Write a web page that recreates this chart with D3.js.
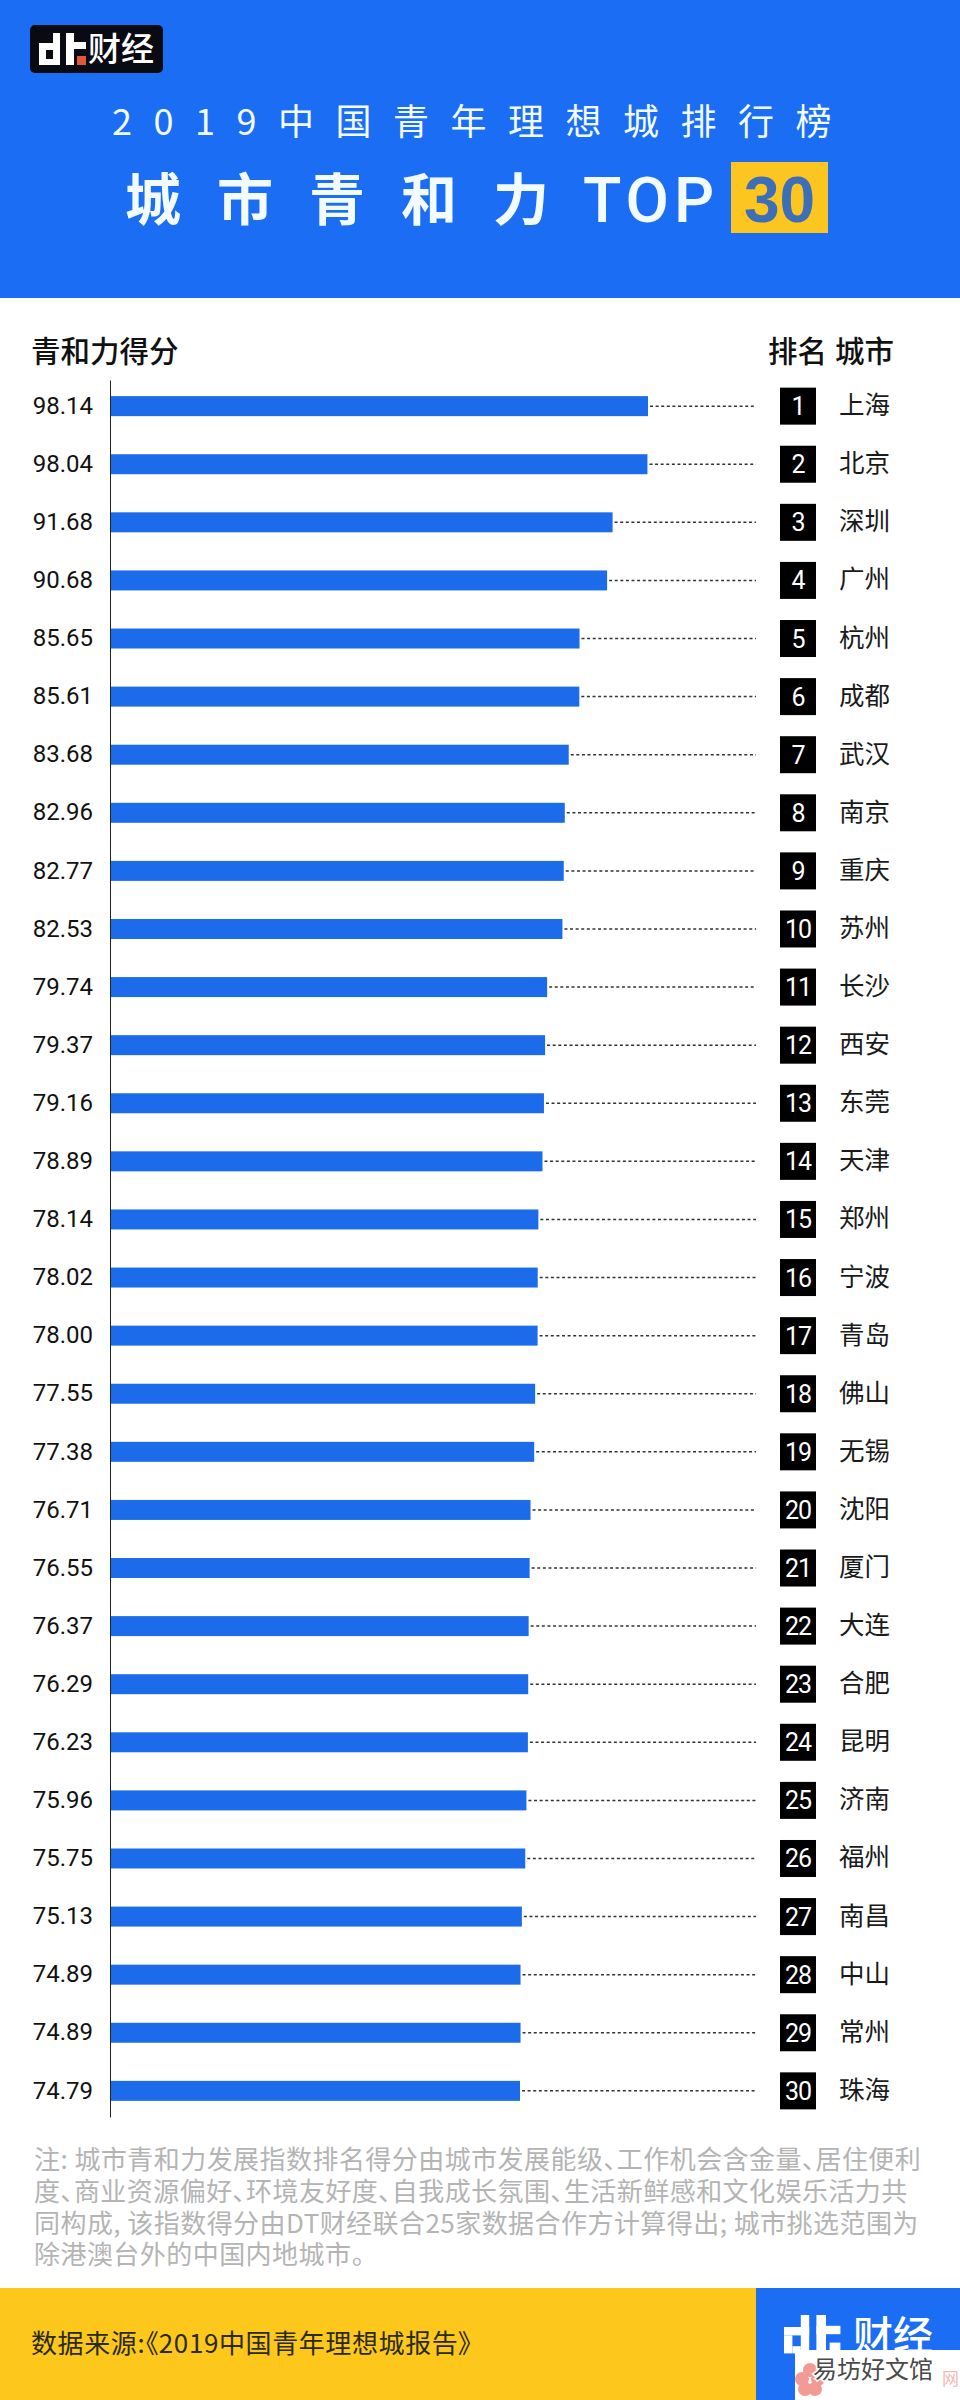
<!DOCTYPE html>
<html>
<head>
<meta charset="utf-8">
<script src="https://cdnjs.cloudflare.com/ajax/libs/d3/7.8.5/d3.min.js"></script>
<style>
  html, body { margin: 0; padding: 0; background: #fff; }
  svg { display: block; }
  text { font-family: "Noto Sans CJK SC", sans-serif; font-feature-settings: "palt"; }
  text.title { font-feature-settings: normal; }
  .num { font-family: Roboto, sans-serif; }
</style>
</head>
<body>
<div id="chart"></div>
<script>
var cities = ["上海","北京","深圳","广州","杭州","成都","武汉","南京","重庆","苏州",
  "长沙","西安","东莞","天津","郑州","宁波","青岛","佛山","无锡","沈阳",
  "厦门","大连","合肥","昆明","济南","福州","南昌","中山","常州","珠海"];
var scores = [98.14,98.04,91.68,90.68,85.65,85.61,83.68,82.96,82.77,82.53,
  79.74,79.37,79.16,78.89,78.14,78.02,78.00,77.55,77.38,76.71,
  76.55,76.37,76.29,76.23,75.96,75.75,75.13,74.89,74.89,74.79];
var ranks = d3.range(1, 31);
var noteLines = [
  "注: 城市青和力发展指数排名得分由城市发展能级、工作机会含金量、居住便利",
  "度、商业资源偏好、环境友好度、自我成长氛围、生活新鲜感和文化娱乐活力共",
  "同构成, 该指数得分由DT财经联合25家数据合作方计算得出; 城市挑选范围为",
  "除港澳台外的中国内地城市。"
];
var titleTop = "2019中国青年理想城排行榜";
var titleMain = "城市青和力";

var blue = "#1b6df4";
var barBlue = "#1c6bea";
var yellow = "#fdc81b";

var svg = d3.select("#chart").append("svg")
  .attr("width", 960)
  .attr("height", 2400);

// header
svg.append("rect").attr("width", 960).attr("height", 298).attr("fill", blue);

function drawLogo(x, y, k, dotColor, word, wordX, wordY, wordSize) {
  var g = svg.append("g").attr("transform", "translate(" + x + "," + y + ") scale(" + k + ")");
  // the "dt" mark, each block relative to the top left of the mark
  var blocks = [[0,10,21,7],[0,17,7,15],[14,0,7,32],[7,26,7,6],[27,0,8,32],[27,9,20,7]];
  g.selectAll("rect.b").data(blocks).join("rect")
    .attr("class", "b").attr("x", d => d[0]).attr("y", d => d[1])
    .attr("width", d => d[2]).attr("height", d => d[3]).attr("fill", "#fff");
  g.append("rect").attr("x", 38).attr("y", 23).attr("width", 9).attr("height", 9).attr("fill", dotColor);
  svg.append("text").attr("x", wordX).attr("y", wordY)
    .attr("font-size", wordSize).attr("font-weight", 500).attr("fill", "#fff").text(word);
}

svg.append("rect").attr("x", 30).attr("y", 25).attr("width", 133).attr("height", 48)
  .attr("rx", 5).attr("fill", "#0a0a12");
drawLogo(39, 33, 1, "#e0583a", "财经", 88, 61, 33);

svg.append("text").attr("class", "title").attr("x", 112).attr("y", 135)
  .attr("font-size", 36).attr("letter-spacing", 21.5).attr("fill", "#f2fbff").text(titleTop);

svg.append("text").attr("class", "title").attr("x", 125).attr("y", 220)
  .attr("font-size", 56).attr("font-weight", 700).attr("letter-spacing", 36)
  .attr("fill", "#f2fbff").text(titleMain);
svg.append("text").attr("x", 583).attr("y", 222)
  .style("font-family", "Roboto").attr("font-size", 63).attr("font-weight", 500)
  .attr("letter-spacing", 5).attr("fill", "#f2fbff").text("TOP");
svg.append("rect").attr("x", 731).attr("y", 162).attr("width", 97).attr("height", 71).attr("fill", "#fcc51f");
svg.append("text").attr("x", 779.5).attr("y", 222).attr("text-anchor", "middle")
  .style("font-family", "Liberation Sans").attr("font-size", 64).attr("font-weight", 700)
  .attr("fill", "#3c6fb8").text("30");

// column titles
svg.append("text").attr("x", 31).attr("y", 362).attr("font-size", 29.5).attr("font-weight", 500)
  .attr("fill", "#111").text("青和力得分");
svg.append("text").attr("x", 768).attr("y", 362).attr("font-size", 29.5).attr("font-weight", 500)
  .attr("fill", "#111").text("排名");
svg.append("text").attr("x", 835).attr("y", 362).attr("font-size", 29.5).attr("font-weight", 500)
  .attr("fill", "#111").text("城市");

// scales
var x = d3.scaleLinear().domain([0, 98.14]).range([110, 648]);
var y = d3.scaleBand().domain(ranks).range([380, 2117]).paddingInner(0.656).paddingOuter(0.278);
var mid = d => y(d) + y.bandwidth() / 2;

var rows = svg.append("g").selectAll("g").data(ranks).join("g");

rows.append("line")
  .attr("x1", d => x(scores[d - 1]) + 2)
  .attr("x2", 756)
  .attr("y1", mid).attr("y2", mid)
  .attr("stroke", "#333").attr("stroke-width", 1.5).attr("stroke-dasharray", "3,2.6");

rows.append("rect")
  .attr("x", x(0))
  .attr("y", d => y(d))
  .attr("width", d => x(scores[d - 1]) - x(0))
  .attr("height", y.bandwidth())
  .attr("fill", barBlue);

rows.append("rect")
  .attr("x", 780).attr("y", d => mid(d) - 18.5)
  .attr("width", 36).attr("height", 37).attr("fill", "#000");

rows.append("text").attr("class", "num")
  .attr("x", 798).attr("y", d => mid(d) + 9)
  .attr("text-anchor", "middle").attr("font-size", 25).attr("letter-spacing", -1).attr("fill", "#fff")
  .text(d => d);

rows.append("text")
  .attr("x", 839).attr("y", d => mid(d) + 8)
  .attr("font-size", 25.5).attr("fill", "#1a1a1a")
  .text(d => cities[d - 1]);

// axis carries the score labels
var axis = svg.append("g")
  .attr("transform", "translate(110,0)")
  .call(d3.axisLeft(y).tickSize(0).tickPadding(17).tickFormat(d => scores[d - 1].toFixed(2)));
axis.select(".domain").attr("stroke", "#222").attr("stroke-width", 1);
axis.selectAll(".tick text")
  .attr("font-size", 24).attr("fill", "#111")
  .style("font-family", "Roboto");

// note
svg.append("g").selectAll("text").data(noteLines).join("text")
  .attr("x", 34)
  .attr("y", (d, i) => 2169 + i * 31.8)
  .attr("font-size", 26).attr("letter-spacing", 0.45).attr("fill", "#b4b4b4").text(d => d);

// footer
svg.append("rect").attr("y", 2288).attr("width", 756).attr("height", 112).attr("fill", yellow);
svg.append("rect").attr("x", 756).attr("y", 2288).attr("width", 204).attr("height", 112).attr("fill", blue);
svg.append("text").attr("x", 31).attr("y", 2353).attr("font-size", 26).attr("letter-spacing", 0.6).attr("fill", "#2a2a1a")
  .text("数据来源:《2019中国青年理想城报告》");
drawLogo(784, 2315, 1.2, "#fff", "财经", 853, 2350, 40);

// watermark over the corner
svg.append("rect").attr("x", 795).attr("y", 2350).attr("width", 165).attr("height", 50).attr("fill", "#fff");
var petals = [[810,2370],[802,2379],[818,2379],[805,2389],[815,2389]];
svg.append("g").selectAll("circle").data(petals).join("circle")
  .attr("cx", d => d[0]).attr("cy", d => d[1]).attr("r", 7).attr("fill", "#f29a94");
svg.append("text").attr("x", 942).attr("y", 2385).attr("font-size", 17).attr("fill", "#f4b9b4").text("网");
svg.append("text").attr("x", 813).attr("y", 2378).attr("font-size", 24)
  .attr("fill", "#4a4a4a").attr("stroke", "#fff").attr("stroke-width", 3)
  .attr("paint-order", "stroke").text("易坊好文馆");
</script>
</body>
</html>
